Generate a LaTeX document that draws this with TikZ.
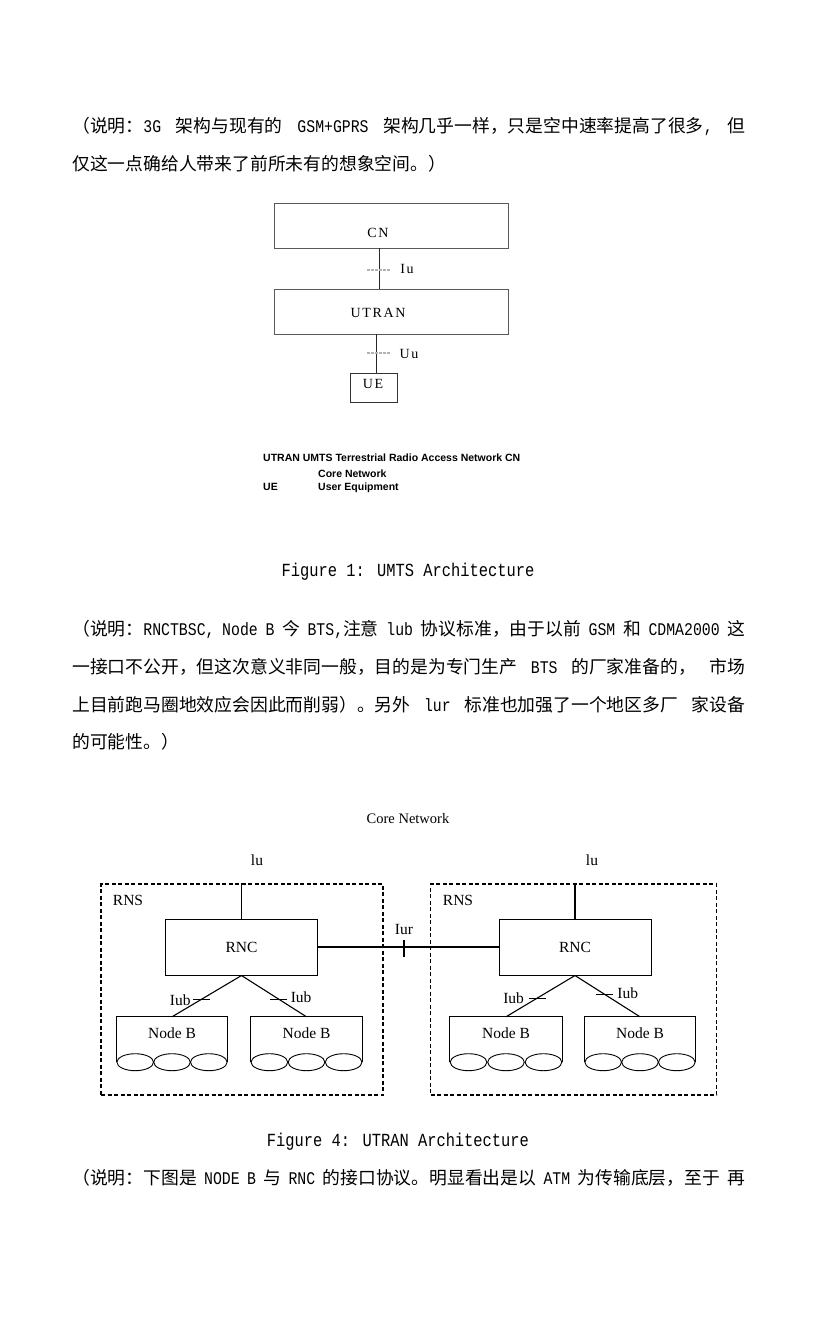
\documentclass[tikz,border=0pt]{standalone}
\usepackage{fontspec}
\usetikzlibrary{calc}
\setmainfont{Liberation Serif}
\newfontfamily\cjk{Noto Sans CJK SC}
\newfontfamily\ltmono[FakeStretch=0.833]{Liberation Mono}
\newfontfamily\figserif[LetterSpace=12]{Liberation Serif}
\newfontfamily\legendfont{Liberation Sans}
\newcommand\lt[1]{{\ltmono #1}}
\newcommand\gp{\hskip 0.5em plus 1fil minus 0.3em\relax}
\tikzset{
  para/.style={anchor=base west, inner sep=0pt, font=\cjk\fontsize{17.8}{20}\selectfont},
  capt/.style={anchor=base, inner sep=0pt, font=\ltmono\fontsize{18.5}{20}\selectfont},
  boxA/.style={draw=black!65, line width=0.9pt, minimum width=234pt, minimum height=45pt, inner sep=0pt},
  labA/.style={inner sep=0pt, font=\figserif\fontsize{14}{15}\selectfont},
  lnA/.style={draw=black!85, line width=1pt},
  tickA/.style={draw=black!30, line width=1.1pt, dash pattern=on 3pt off 1pt},
  leg/.style={anchor=base west, inner sep=0pt, font=\legendfont\bfseries\fontsize{10.5}{12}\selectfont},
  labB/.style={inner sep=0pt, font=\fontsize{15.5}{17}\selectfont},
  rnsbox/.style={draw, line width=1.1pt, dash pattern=on 4pt off 2.5pt, minimum height=211pt, inner sep=0pt},
  rncbox/.style={draw, line width=1pt, minimum width=152pt, minimum height=56pt, inner sep=0pt, font=\fontsize{15.5}{17}\selectfont},
  nbbox/.style={minimum height=45pt, inner sep=0pt},
  lnB/.style={line width=1.1pt},
}
\begin{document}
\begin{tikzpicture}[x=1pt,y=-1pt]
\fill[white] (0,0) rectangle (816,1344);
\useasboundingbox (0,0) rectangle (816,1344);

% paragraph 1
\node[para] (p1a) at (72,132) {\hbox to 673pt{（说明：\lt{3G}\gp 架构与现有的\gp\lt{GSM+GPRS}\gp 架构几乎一样，只是空中速率提高了很多\lt{,}\gp 但}};
\node[para] (p1b) at (72,170) {仅这一点确给人带来了前所未有的想象空间。）};

% Figure 1
\node[boxA] (cn) at (391,225.5) {};
\node[labA] (cnt) at (378,233) {CN};
\node[boxA] (utran) at (391,311.5) {};
\node[labA] (utrant) at (378,313) {UTRAN};
\node[draw=black!80, line width=1pt, minimum width=47pt, minimum height=29pt, inner sep=0pt] (ue) at (373.5,387.5) {};
\node[labA] (uet) at (373,384) {UE};
\draw[lnA] ([xshift=-12pt]cn.south) -- ([xshift=-12pt]cn.south |- utran.north);
\draw[lnA] ([xshift=2.5pt]ue.north |- utran.south) -- ([xshift=2.5pt]ue.north);
\coordinate (ta1) at (367,270); \coordinate (ta2) at (390,270);
\draw[tickA] (ta1) -- (ta2);
\coordinate (tb1) at (367,353); \coordinate (tb2) at (390,353);
\draw[tickA] (tb1) -- (tb2);
\node[labA] (iua) at (407,269) {Iu};
\node[labA] (uua) at (409,354) {Uu};

% legend
\node[leg] (lg1) at (263,461.5) {UTRAN UMTS Terrestrial Radio Access Network CN};
\node[leg] (lg2) at (318,477.5) {Core Network};
\node[leg] (lg3) at (263,490.5) {UE};
\node[leg] (lg4) at (318,490.5) {User Equipment};

\node[capt] (cap1) at (408,576) {Figure 1: UMTS Architecture};

% paragraph 2
\node[para] (p2a) at (72,635) {\hbox to 673pt{（说明：\lt{RNCTBSC,}\gp\lt{Node}\gp\lt{B}\gp 今\gp\lt{BTS,}注意\gp\lt{lub}\gp 协议标准，由于以前\gp\lt{GSM}\gp 和\gp\lt{CDMA2000}\gp 这}};
\node[para] (p2b) at (72,673) {\hbox to 673pt{一接口不公开，但这次意义非同一般，目的是为专门生产\gp\lt{BTS}\gp 的厂家准备的，\gp 市场}};
\node[para] (p2c) at (72,711) {\hbox to 673pt{上目前跑马圈地效应会因此而削弱）。另外\gp\lt{lur}\gp 标准也加强了一个地区多厂\gp 家设备}};
\node[para] (p2d) at (72,748) {的可能性。）};

% Figure 4
\node[labB, font=\fontsize{14.5}{16}\selectfont] (core) at (408,819) {Core Network};
\node[rnsbox, minimum width=282pt] (rns1) at (242,989.5) {};
\node[rnsbox, minimum width=286pt] (rns2) at (573.5,989.5) {};
\node[labB] (rnsl1) at (128,900) {RNS};
\node[labB] (rnsl2) at (458,900) {RNS};
\node[rncbox] (rnc1) at (241.5,947) {RNC};
\node[rncbox] (rnc2) at (575,947) {RNC};
\draw[lnB] (rnc1.north) -- (rnc1.north |- rns1.north);
\draw[lnB] (rnc2.north) -- (rnc2.north |- rns2.north);
\node[labB] (lu1) at (257,860) {lu};
\node[labB] (lu2) at (592,860) {lu};
\draw[line width=1.5pt] (rnc1.east) -- (rnc2.west);
\coordinate (ur1) at (404,940); \coordinate (ur2) at (404,957);
\draw[lnB] (ur1) -- (ur2);
\node[labB] (iur) at (404,929) {Iur};

\node[nbbox, minimum width=110pt] (nb1) at (172,1039.5) {};
\node[nbbox, minimum width=111pt] (nb2) at (306.5,1039.5) {};
\node[nbbox, minimum width=112pt] (nb3) at (506,1039.5) {};
\node[nbbox, minimum width=110pt] (nb4) at (640,1039.5) {};
\foreach \n in {nb1,nb2,nb3,nb4}{
  \draw[lnB] (\n.south west) -- (\n.north west) -- (\n.north east) -- (\n.south east);
  \node[labB] (\n t) at ([yshift=6.5pt]\n.center) {Node B};
  \path (\n.south west) coordinate (\n sw) (\n.south east) coordinate (\n se);
  \foreach \i in {1,3,5}{
    \draw[line width=0.9pt] ($(\n sw)!\i/6!(\n se)$) ellipse [x radius=18.3pt, y radius=8.5pt];
  }
}
\draw[lnB] (rnc1.south) -- (nb1.north);
\draw[lnB] (rnc1.south) -- (nb2.north);
\draw[lnB] (rnc2.south) -- (nb3.north);
\draw[lnB] (rnc2.south) -- (nb4.north);
\coordinate (k1) at ($(rnc1.south)!0.571!(nb1.north)$);
\coordinate (k2) at ($(rnc1.south)!0.571!(nb2.north)$);
\coordinate (k3) at ($(rnc2.south)!0.548!(nb3.north)$);
\coordinate (k4) at ($(rnc2.south)!0.45!(nb4.north)$);
\foreach \k in {k1,k2,k3,k4}{
  \draw[lnB] ($(\k)+(-8.5,0)$) -- ($(\k)+(8.5,0)$);
}
\node[labB, anchor=east] (iub1) at ($(k1)+(-11,1)$) {Iub};
\node[labB, anchor=west] (iub2) at ($(k2)+(12,-2)$) {Iub};
\node[labB, anchor=east] (iub3) at ($(k3)+(-13,0)$) {Iub};
\node[labB, anchor=west] (iub4) at ($(k4)+(13,-1)$) {Iub};

\node[capt] (cap4) at (398,1146) {Figure 4: UTRAN Architecture};
\node[para] (p3a) at (72,1184) {\hbox to 673pt{（说明：下图是\gp\lt{NODE}\gp\lt{B}\gp 与\gp\lt{RNC}\gp 的接口协议。明显看出是以\gp\lt{ATM}\gp 为传输底层，至于\gp 再}};
\end{tikzpicture}
\end{document}
